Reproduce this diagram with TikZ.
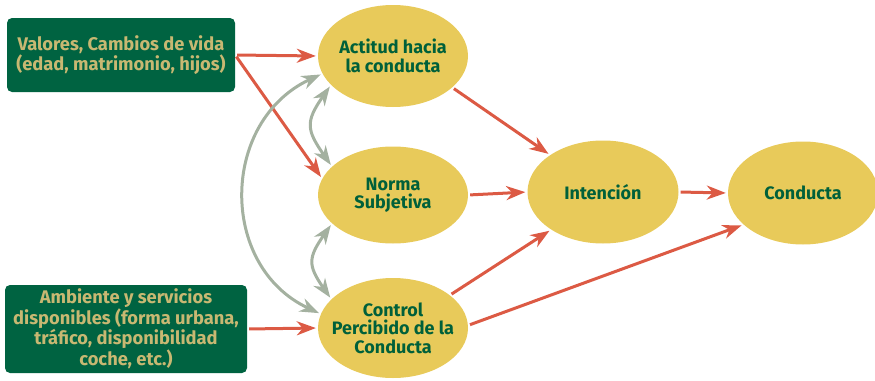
\documentclass[tikz,border=0pt]{standalone}
\usepackage{fontspec}
\setmainfont{Fira Sans}
\usetikzlibrary{arrows.meta,shapes.geometric}
\definecolor{boxgreen}{HTML}{006341}
\definecolor{boxtext}{HTML}{C8B872}
\definecolor{ellfill}{HTML}{E8CA5A}
\definecolor{elltext}{HTML}{00603A}
\definecolor{redarr}{HTML}{DC5A44}
\definecolor{grayarr}{HTML}{A4B1A0}
\tikzset{
  ell/.style={ellipse, fill=ellfill, inner sep=0pt, minimum width=150pt},
  elltxt/.style={text=elltext, font=\fontsize{18}{18.5}\selectfont\bfseries, align=center, inner sep=0pt},
  gbox/.style={rectangle, rounded corners=5pt, fill=boxgreen, text=boxtext, inner sep=0pt, font=\fontsize{18.3}{18}\selectfont\bfseries, align=center},
  rarr/.style={draw=redarr, line width=3pt, shorten >=2pt, shorten <=2pt, -{Stealth[length=19pt,width=14pt,inset=6pt]}},
  garr/.style={draw=grayarr, line width=3pt, shorten >=2pt, shorten <=2pt, {Stealth[length=19pt,width=14pt,inset=6pt]}-{Stealth[length=19pt,width=14pt,inset=6pt]}},
}
\begin{document}
\begin{tikzpicture}[x=1pt,y=-1pt]
\useasboundingbox (0,0) rectangle (875,380);
% boxes
\node[gbox, minimum width=228pt, minimum height=74pt] (b1) at (121,55) {Valores, Cambios de vida\\(edad, matrimonio, hijos)};
\node[gbox, minimum width=242pt, minimum height=88pt] (b2) at (126,329) {Ambiente y servicios\\disponibles (forma urbana,\\tráfico, disponibilidad\\coche, etc.)};
% ellipses
\node[ell, minimum height=102pt, label={[elltxt]center:Actitud hacia\\la conducta}] (act) at (393,56) {};
\node[ell, minimum height=97pt, label={[elltxt]center:Norma\\Subjetiva}] (nor) at (393,195) {};
\node[ell, minimum height=100pt, label={[elltxt]center:Control\\Percibido de la\\Conducta}] (con) at (393,328) {};
\node[ell, minimum width=151pt, minimum height=103pt, label={[elltxt]center:Intención}] (int) at (603,192) {};
\node[ell, minimum height=103pt, label={[elltxt]center:Conducta}] (cdt) at (803,193) {};
% red arrows
\draw[rarr] (b1.east) -- (act.west);
\draw[rarr] (b1.east) -- (nor.167);
\draw[rarr] (b2.east) -- (con.west);
\draw[rarr] (act.-28) -- (int.145);
\draw[rarr] (nor.east) -- (int.west);
\draw[rarr] (con.30) -- (int.216);
\draw[rarr] (con.2) -- (cdt.208);
\draw[rarr] (int.east) -- (cdt.west);
% gray arrows
\draw[garr] (act.205) to[out=235,in=125,looseness=1.4] (nor.155);
\draw[garr] (nor.205) to[out=235,in=125,looseness=1.4] (con.155);
\draw[garr] (act.194) to[out=205,in=155,looseness=1.2] (con.169);
\end{tikzpicture}
\end{document}
